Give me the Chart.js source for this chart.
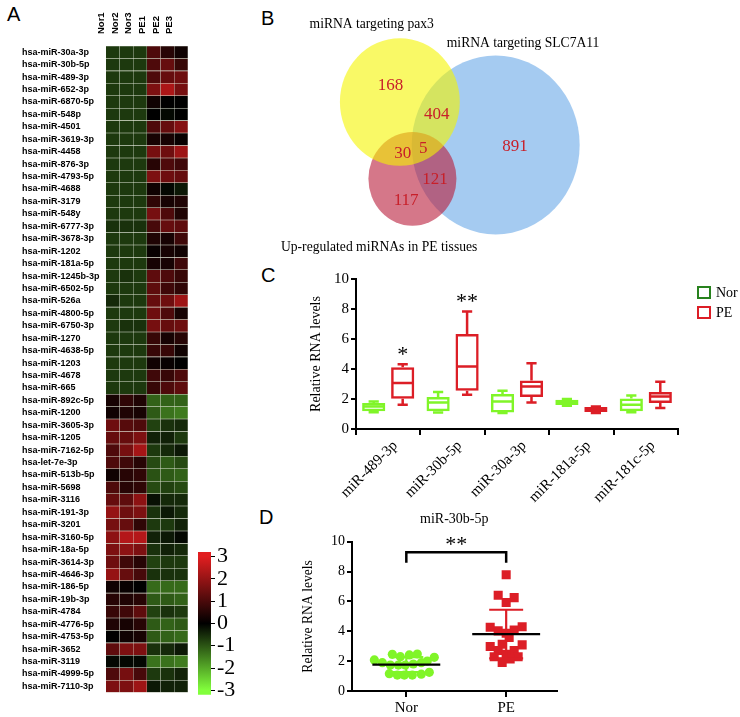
<!DOCTYPE html>
<html>
<head>
<meta charset="utf-8">
<script src="https://cdn.jsdelivr.net/npm/chart.js@4.4.1/dist/chart.umd.min.js"></script>
<style>
  body { margin: 0; width: 740px; height: 717px; background: #fff; overflow: hidden; position: relative; }
  canvas { position: absolute; }
  .tag { position: absolute; font-family: 'Liberation Sans', Arial, sans-serif; font-size: 20px; color: #000; }
</style>
</head>
<body>
<div class="tag" style="left:7px;top:3px">A</div>
<div class="tag" style="left:261px;top:7px">B</div>
<div class="tag" style="left:261px;top:264px">C</div>
<div class="tag" style="left:259px;top:506px">D</div>

<canvas id="heat" width="188" height="698" style="left:0;top:0"></canvas>
<canvas id="scale" width="52" height="175" style="left:190px;top:535px"></canvas>
<canvas id="venn" width="370" height="260" style="left:250px;top:0"></canvas>
<canvas id="box" width="440" height="245" style="left:300px;top:262px"></canvas>
<canvas id="dot" width="273" height="212" style="left:290px;top:505px"></canvas>

<script>
// ---- panel A: heatmap data ----
var mirnas = ['hsa-miR-30a-3p', 'hsa-miR-30b-5p', 'hsa-miR-489-3p', 'hsa-miR-652-3p', 'hsa-miR-6870-5p',
  'hsa-miR-548p', 'hsa-miR-4501', 'hsa-miR-3619-3p', 'hsa-miR-4458', 'hsa-miR-876-3p', 'hsa-miR-4793-5p',
  'hsa-miR-4688', 'hsa-miR-3179', 'hsa-miR-548y', 'hsa-miR-6777-3p', 'hsa-miR-3678-3p', 'hsa-miR-1202',
  'hsa-miR-181a-5p', 'hsa-miR-1245b-3p', 'hsa-miR-6502-5p', 'hsa-miR-526a', 'hsa-miR-4800-5p',
  'hsa-miR-6750-3p', 'hsa-miR-1270', 'hsa-miR-4638-5p', 'hsa-miR-1203', 'hsa-miR-4678', 'hsa-miR-665',
  'hsa-miR-892c-5p', 'hsa-miR-1200', 'hsa-miR-3605-3p', 'hsa-miR-1205', 'hsa-miR-7162-5p', 'hsa-let-7e-3p',
  'hsa-miR-513b-5p', 'hsa-miR-5698', 'hsa-miR-3116', 'hsa-miR-191-3p', 'hsa-miR-3201', 'hsa-miR-3160-5p',
  'hsa-miR-18a-5p', 'hsa-miR-3614-3p', 'hsa-miR-4646-3p', 'hsa-miR-186-5p', 'hsa-miR-19b-3p', 'hsa-miR-4784',
  'hsa-miR-4776-5p', 'hsa-miR-4753-5p', 'hsa-miR-3652', 'hsa-miR-3119', 'hsa-miR-4999-5p', 'hsa-miR-7110-3p'];
var samples = ['Nor1', 'Nor2', 'Nor3', 'PE1', 'PE2', 'PE3'];

var nor1 = [-0.7, -0.7, -0.7, -0.7, -0.7, -0.7, -0.7, -0.7, -0.7, -0.7, -0.7, -0.7, -0.7, -0.7, -0.6, -0.7, -0.7,
  -0.7, -0.7, -0.7, -0.5, -0.7, -0.7, -0.7, -0.7, -0.7, -0.7, -0.7,
  0.3, 0.2, 1.4, 1.3, 1.0, 1.0, 0.2, 1.0, 1.3, 1.9, 1.5, 1.8, 1.6, 1.4, 1.9, 0.2, 0.5, 0.7, 0.4, 0.0, 1.2, -0.1, 1.0, 1.6];
var nor2 = [-0.7, -0.7, -0.7, -0.7, -0.7, -0.7, -0.7, -0.7, -0.7, -0.7, -0.7, -0.7, -0.7, -0.7, -0.6, -0.7, -0.7,
  -0.7, -0.6, -0.7, -0.7, -0.7, -0.6, -0.7, -0.7, -0.7, -0.7, -0.7,
  0.6, 0.4, 1.1, 1.3, 1.5, 0.8, 0.5, 0.5, 1.2, 1.4, 1.3, 2.3, 1.8, 0.8, 1.3, 0.1, 0.4, 0.8, 0.3, 0.2, 1.6, -0.1, 1.5, 1.6];
var nor3 = [-0.7, -0.7, -0.7, -0.7, -0.7, -0.7, -0.7, -0.7, -0.7, -0.7, -0.7, -0.7, -0.7, -0.7, -0.6, -0.7, -0.7,
  -0.7, -0.7, -0.7, -0.7, -0.7, -0.6, -0.7, -0.7, -0.7, -0.7, -0.7,
  0.4, 0.3, 1.0, 1.6, 2.1, 0.5, 0.6, 0.6, 1.8, 1.6, 0.6, 2.3, 1.6, 0.5, 0.9, 0.0, 0.5, 1.2, 0.5, 0.3, 1.6, -0.1, 0.9, 2.0];
var pe1 = [1.0, 1.0, 1.0, 1.6, 0.2, 0.0, 1.0, 0.3, 1.5, 0.5, 1.6, 0.2, 0.6, 1.5, 0.9, 0.4, 0.1, 0.3, 1.2, 1.2,
  1.3, 1.4, 1.5, 0.7, 0.7, 0.2, 0.8, 0.7,
  -1.2, -1.1, -0.8, -0.4, -0.7, -0.9, -1.0, -0.9, -0.2, -0.6, -0.7, -0.4, -0.6, -0.8, -0.6, -1.3, -1.1, -0.8, -1.1, -1.1, -0.6, -1.4, -0.7, -0.3];
var pe2 = [0.5, 1.3, 1.3, 2.2, 0.0, -0.1, 1.3, 0.3, 1.4, 1.0, 1.4, -0.1, 0.3, 1.0, 1.3, 0.3, 0.3, 0.3, 1.0, 0.8,
  1.4, 1.0, 1.3, 0.3, 0.7, 0.1, 0.7, 1.0,
  -1.2, -1.4, -0.6, -0.4, -0.5, -1.1, -1.1, -0.8, -0.5, -0.3, -0.7, -0.3, -0.4, -0.7, -0.6, -1.3, -1.1, -0.6, -1.2, -1.2, -0.5, -1.4, -0.6, -0.4];
var pe3 = [0.2, 0.7, 1.4, 1.5, 0.0, 0.0, 1.7, 0.1, 2.0, 0.8, 1.3, -0.3, 0.4, 0.4, 1.2, 0.8, 0.2, 0.8, 0.7, 0.6,
  2.0, 0.3, 1.4, 0.5, 0.2, 0.0, 1.0, 1.2,
  -1.2, -1.5, -0.5, -0.7, -0.3, -0.9, -1.2, -0.9, -0.5, -0.5, -0.4, -0.1, -0.5, -0.7, -0.6, -1.3, -1.2, -0.7, -1.1, -1.3, -0.3, -1.5, -0.4, -0.4];
var heatValues = [nor1, nor2, nor3, pe1, pe2, pe3];
var colorTicks = [3, 2, 1, 0, -1, -2, -3];

// ---- panel B: venn ----
var vennTitles = ['miRNA targeting pax3', 'miRNA targeting SLC7A11', 'Up-regulated miRNAs in PE tissues'];
var vennCounts = [168, 404, 30, 5, 891, 121, 117];

// ---- panel C: box plots ----
var boxLabels = ['miR-489-3p', 'miR-30b-5p', 'miR-30a-3p', 'miR-181a-5p', 'miR-181c-5p'];
var norMin = [1.12, 1.1, 1.06, 1.55, 1.11];
var norQ1 = [1.18, 1.18, 1.1, 1.6, 1.18];
var norMed = [1.5, 1.77, 1.84, 1.8, 1.62];
var norQ3 = [1.73, 2.13, 2.33, 1.95, 2.04];
var norMax = [1.84, 2.46, 2.55, 2.0, 2.24];
var peMin = [1.62, 2.28, 1.77, 1.06, 1.4];
var peQ1 = [2.02, 2.55, 2.13, 1.13, 1.73];
var peMed = [3.06, 4.17, 2.84, 1.33, 2.17];
var peQ3 = [4.12, 6.34, 3.24, 1.46, 2.46];
var peMax = [4.32, 7.83, 4.39, 1.5, 3.15];
var boxSig = ['*', '**', '', '', ''];

// ---- panel D: miR-30b-5p scatter ----
var dotGroups = ['Nor', 'PE'];
var norDots = [2.46, 2.30, 2.42, 2.48, 2.26, 2.08, 1.90, 1.74, 1.74, 1.74, 1.81, 1.90, 2.01, 1.16, 1.07, 1.07, 1.07, 1.13, 1.25];
var norJitter = [-0.14, -0.06, 0.03, 0.11, 0.28, -0.32, -0.24, -0.16, -0.08, -0.01, 0.07, 0.15, 0.21, -0.17, -0.09, -0.02, 0.06, 0.15, 0.23];
var peDots = [7.79, 6.42, 6.26, 5.93, 4.27, 4.03, 4.09, 4.30, 3.87, 3.58, 3.13, 2.98, 3.09, 2.71, 2.71, 2.30, 2.46, 2.30, 2.15, 1.92];
var peJitter = [0, -0.08, 0.08, 0, -0.16, -0.08, 0.08, 0.16, 0, 0.03, -0.04, -0.16, 0.16, -0.08, 0.08, -0.12, 0, 0.12, 0.04, -0.04];

var serif = 'Liberation Serif, Times New Roman, serif';
var sans = 'Liberation Sans, Arial, sans-serif';
var GREEN = 'rgb(128,245,40)';
var RED = 'rgb(220,30,38)';

function cellColor(v) {
  var t = Math.min(Math.abs(v) / 3, 1);
  if (v >= 0) return 'rgb(' + Math.round(235 * t) + ',' + Math.round(30 * t) + ',' + Math.round(32 * t) + ')';
  return 'rgb(' + Math.round(125 * t) + ',' + Math.round(245 * t) + ',' + Math.round(60 * t) + ')';
}

// heatmap as stacked horizontal bars, one bar segment per sample
new Chart(document.getElementById('heat'), {
  type: 'bar',
  data: {
    labels: mirnas,
    datasets: samples.map(function (s, j) {
      return {
        label: s,
        data: mirnas.map(function () { return 1; }),
        backgroundColor: heatValues[j].map(cellColor),
        borderColor: 'rgba(150,170,120,0.22)',
        borderWidth: 0.6,
        barPercentage: 1,
        categoryPercentage: 1
      };
    })
  },
  options: {
    indexAxis: 'y',
    responsive: false,
    animation: false,
    layout: { padding: { left: 22, top: 0, right: 0, bottom: 0 } },
    plugins: { legend: { display: false }, tooltip: { enabled: false } },
    scales: {
      x: {
        type: 'linear', stacked: true, position: 'top', min: 0, max: 6,
        grid: { display: false }, border: { display: false },
        afterBuildTicks: function (s) { s.ticks = samples.map(function (_, i) { return { value: i + 0.5 }; }); },
        afterFit: function (s) { s.height = 46; },
        ticks: {
          callback: function (v, i) { return samples[i]; },
          minRotation: 90, maxRotation: 90, padding: 4, color: '#000',
          font: { family: sans, size: 9.5, weight: 'bold' }
        }
      },
      y: {
        stacked: true,
        grid: { display: false }, border: { display: false },
        afterFit: function (s) { s.width = 84; },
        ticks: { autoSkip: false, crossAlign: 'far', padding: 0, color: '#000', font: { family: sans, size: 9, weight: 'bold' } }
      }
    }
  }
});

// colour key
new Chart(document.getElementById('scale'), {
  type: 'bar',
  data: {
    labels: [''],
    datasets: [{
      data: [[-3.2, 3.2]],
      barPercentage: 1, categoryPercentage: 1,
      backgroundColor: function (c) {
        var ch = c.chart, y = ch.scales.y;
        if (!ch.chartArea || !y) return null;
        var g = ch.ctx.createLinearGradient(0, y.getPixelForValue(-3), 0, y.getPixelForValue(3));
        g.addColorStop(0, 'rgb(130,255,60)');
        g.addColorStop(0.5, 'rgb(0,0,0)');
        g.addColorStop(1, 'rgb(225,30,32)');
        return g;
      }
    }]
  },
  options: {
    responsive: false, animation: false,
    layout: { padding: { left: 8, top: 17, right: 0, bottom: 15 } },
    plugins: { legend: { display: false }, tooltip: { enabled: false } },
    scales: {
      x: { display: false },
      y: {
        position: 'right', min: -3.2, max: 3.2,
        afterBuildTicks: function (s) { s.ticks = colorTicks.map(function (v) { return { value: v }; }); },
        afterFit: function (s) { s.width = 31; },
        grid: { drawOnChartArea: false, tickLength: 4, color: '#000' },
        border: { display: false },
        ticks: { autoSkip: false, padding: 2, color: '#000', font: { family: serif, size: 22 } }
      }
    }
  }
});

// venn diagram (circle centres/radii in chart units)
var vennCircles = [
  { x: 66.4, y: 36.8, r: 22.7, fill: 'rgba(75,152,228,0.5)' },
  { x: 43.9, y: 45.4, r: 11.9, fill: 'rgba(185,28,58,0.6)' },
  { x: 40.5, y: 25.9, r: 16.2, fill: 'rgba(245,245,0,0.6)' }
];
var vennSpots = [[38.0, 21.6], [50.5, 29.2], [41.3, 39.1], [46.8, 37.8], [71.6, 37.2], [50.0, 45.7], [42.2, 50.8]];
var vennTitleSpots = [[32.9, 6.3], [73.8, 10.9], [34.9, 62.7]];

new Chart(document.getElementById('venn'), {
  type: 'scatter',
  data: {
    datasets: [{
      data: vennSpots.map(function (p) { return { x: p[0], y: p[1] }; }),
      pointRadius: 0
    }]
  },
  options: {
    responsive: false, animation: false,
    layout: { padding: 0 },
    plugins: { legend: { display: false }, tooltip: { enabled: false } },
    scales: {
      x: { display: false, min: 0, max: 100 },
      y: { display: false, min: 0, max: 66, reverse: true }
    }
  },
  plugins: [{
    id: 'vennDraw',
    afterDatasetsDraw: function (chart) {
      var c = chart.ctx, sx = chart.scales.x, sy = chart.scales.y;
      var kx = sx.getPixelForValue(1) - sx.getPixelForValue(0);
      var ky = sy.getPixelForValue(1) - sy.getPixelForValue(0);
      c.save();
      vennCircles.forEach(function (e) {
        c.beginPath();
        c.ellipse(sx.getPixelForValue(e.x), sy.getPixelForValue(e.y), e.r * kx, e.r * ky, 0, 0, Math.PI * 2);
        c.fillStyle = e.fill;
        c.fill();
      });
      c.textAlign = 'center';
      c.textBaseline = 'middle';
      c.font = '17px ' + serif;
      c.fillStyle = '#c8202a';
      chart.getDatasetMeta(0).data.forEach(function (pt, i) {
        c.fillText(String(vennCounts[i]), pt.x, pt.y);
      });
      c.font = '13.6px ' + serif;
      c.fillStyle = '#000';
      vennTitles.forEach(function (t, i) {
        c.fillText(t, sx.getPixelForValue(vennTitleSpots[i][0]), sy.getPixelForValue(vennTitleSpots[i][1]));
      });
      c.restore();
    }
  }]
});

// box plots: floating bars for the boxes, whiskers + medians + legend by plugin
var boxStats = [
  { min: norMin, med: norMed, max: norMax },
  { min: peMin, med: peMed, max: peMax }
];
new Chart(document.getElementById('box'), {
  type: 'bar',
  data: {
    labels: boxLabels,
    datasets: [
      { label: 'Nor', data: boxLabels.map(function (_, i) { return [norQ1[i], norQ3[i]]; }),
        backgroundColor: 'rgba(0,0,0,0)', borderColor: GREEN, legendColor: 'rgb(40,130,30)', borderWidth: 2.5, borderSkipped: false,
        barPercentage: 0.8, categoryPercentage: 0.9 },
      { label: 'PE', data: boxLabels.map(function (_, i) { return [peQ1[i], peQ3[i]]; }),
        backgroundColor: 'rgba(0,0,0,0)', borderColor: RED, legendColor: RED, borderWidth: 2.5, borderSkipped: false,
        barPercentage: 0.8, categoryPercentage: 0.9 }
    ]
  },
  options: {
    responsive: false, animation: false,
    layout: { padding: { left: 8, top: 17, right: 62, bottom: 0 } },
    plugins: { tooltip: { enabled: false }, legend: { display: false } },
    scales: {
      x: {
        grid: { drawOnChartArea: false, tickLength: 6, color: '#000', lineWidth: 2, offset: true },
        border: { color: '#000', width: 2 },
        afterFit: function (s) { s.height = 78; },
        ticks: { minRotation: 45, maxRotation: 45, padding: 2, labelOffset: 7, color: '#000', font: { family: serif, size: 15 } }
      },
      y: {
        min: 0, max: 10,
        afterFit: function (s) { s.width = 48; },
        grid: { drawOnChartArea: false, tickLength: 5, color: '#000', lineWidth: 2 },
        border: { color: '#000', width: 2 },
        title: { display: true, text: 'Relative RNA levels', color: '#000', padding: { top: 0, bottom: 4 }, font: { family: serif, size: 14 } },
        ticks: { stepSize: 2, padding: 2, color: '#000', font: { family: serif, size: 15 } }
      }
    }
  },
  plugins: [{
    id: 'whiskers',
    afterDatasetsDraw: function (chart) {
      var c = chart.ctx, y = chart.scales.y, area = chart.chartArea;
      c.save();
      chart.data.datasets.forEach(function (ds, di) {
        var st = boxStats[di];
        chart.getDatasetMeta(di).data.forEach(function (bar, i) {
          var x = bar.x, hw = bar.width / 2 - 1, cap = bar.width * 0.22;
          var box = ds.data[i];
          var pMed = y.getPixelForValue(st.med[i]);
          var pMax = y.getPixelForValue(st.max[i]), pMin = y.getPixelForValue(st.min[i]);
          c.strokeStyle = ds.borderColor;
          c.lineWidth = 2.5;
          c.beginPath();
          c.moveTo(x - hw, pMed); c.lineTo(x + hw, pMed);
          c.moveTo(x, y.getPixelForValue(box[1])); c.lineTo(x, pMax);
          c.moveTo(x - cap, pMax); c.lineTo(x + cap, pMax);
          c.moveTo(x, y.getPixelForValue(box[0])); c.lineTo(x, pMin);
          c.moveTo(x - cap, pMin); c.lineTo(x + cap, pMin);
          c.stroke();
          if (di === 1 && boxSig[i]) {
            c.fillStyle = '#000';
            c.font = '22px ' + serif;
            c.textAlign = 'center';
            c.textBaseline = 'middle';
            c.fillText(boxSig[i], x, y.getPixelForValue(st.max[i] + 0.6));
          }
        });
        // legend entry
        var lx = area.right + 20, ly = area.top + 8 + di * 20;
        c.lineWidth = 2;
        c.strokeStyle = ds.legendColor;
        c.strokeRect(lx, ly, 12, 11);
        c.fillStyle = '#000';
        c.font = '14px ' + serif;
        c.textAlign = 'left';
        c.textBaseline = 'middle';
        c.fillText(ds.label, lx + 18, ly + 6);
      });
      c.restore();
    }
  }]
});

// scatter with mean +- SD
function mean(a) { return a.reduce(function (s, v) { return s + v; }, 0) / a.length; }
function sd(a) {
  var m = mean(a);
  return Math.sqrt(a.reduce(function (s, v) { return s + (v - m) * (v - m); }, 0) / (a.length - 1));
}
var dotSets = [
  { vals: norDots, color: GREEN },
  { vals: peDots, color: RED }
];
new Chart(document.getElementById('dot'), {
  type: 'scatter',
  data: {
    datasets: [
      { label: 'Nor', data: norDots.map(function (v, i) { return { x: 1 + norJitter[i], y: v }; }),
        pointStyle: 'circle', pointRadius: 4.6, backgroundColor: GREEN, borderWidth: 0 },
      { label: 'PE', data: peDots.map(function (v, i) { return { x: 2 + peJitter[i], y: v }; }),
        pointStyle: 'rect', pointRadius: 6.4, backgroundColor: RED, borderWidth: 0 }
    ]
  },
  options: {
    responsive: false, animation: false,
    layout: { padding: { left: 10, top: 0, right: 0, bottom: 0 } },
    plugins: {
      legend: { display: false }, tooltip: { enabled: false },
      title: { display: true, text: 'miR-30b-5p', fullSize: false, color: '#000', padding: { top: 6, bottom: 14 }, font: { family: serif, size: 14, weight: 'normal' } }
    },
    scales: {
      x: {
        type: 'linear', min: 0.456, max: 2.505,
        afterBuildTicks: function (s) { s.ticks = [{ value: 1 }, { value: 2 }]; },
        afterFit: function (s) { s.height = 26; },
        grid: { drawOnChartArea: false, tickLength: 6, color: '#000', lineWidth: 2 },
        border: { color: '#000', width: 2 },
        ticks: { callback: function (v, i) { return dotGroups[i]; }, padding: 2, color: '#000', font: { family: serif, size: 15 } }
      },
      y: {
        min: 0, max: 10,
        afterFit: function (s) { s.width = 52; },
        grid: { drawOnChartArea: false, tickLength: 5, color: '#000', lineWidth: 2 },
        border: { color: '#000', width: 2 },
        title: { display: true, text: 'Relative RNA levels', color: '#000', padding: { top: 0, bottom: 4 }, font: { family: serif, size: 13.6 } },
        ticks: { stepSize: 2, padding: 2, color: '#000', font: { family: serif, size: 14 } }
      }
    }
  },
  plugins: [{
    id: 'meanSd',
    afterDatasetsDraw: function (chart) {
      var c = chart.ctx, sx = chart.scales.x, sy = chart.scales.y;
      c.save();
      c.lineWidth = 2.2;
      dotSets.forEach(function (g, gi) {
        var cx = gi + 1, m = mean(g.vals), s = sd(g.vals);
        var top = sy.getPixelForValue(m + s), bot = sy.getPixelForValue(m - s);
        c.strokeStyle = g.color;
        c.beginPath();
        c.moveTo(sx.getPixelForValue(cx), top); c.lineTo(sx.getPixelForValue(cx), bot);
        c.moveTo(sx.getPixelForValue(cx - 0.17), top); c.lineTo(sx.getPixelForValue(cx + 0.17), top);
        c.moveTo(sx.getPixelForValue(cx - 0.17), bot); c.lineTo(sx.getPixelForValue(cx + 0.17), bot);
        c.stroke();
        c.strokeStyle = '#000';
        c.beginPath();
        c.moveTo(sx.getPixelForValue(cx - 0.34), sy.getPixelForValue(m));
        c.lineTo(sx.getPixelForValue(cx + 0.34), sy.getPixelForValue(m));
        c.stroke();
      });
      // significance bracket
      c.strokeStyle = '#000';
      c.lineWidth = 2.5;
      c.beginPath();
      c.moveTo(sx.getPixelForValue(1), sy.getPixelForValue(8.6));
      c.lineTo(sx.getPixelForValue(1), sy.getPixelForValue(9.3));
      c.lineTo(sx.getPixelForValue(2), sy.getPixelForValue(9.3));
      c.lineTo(sx.getPixelForValue(2), sy.getPixelForValue(8.6));
      c.stroke();
      c.fillStyle = '#000';
      c.font = '22px ' + serif;
      c.textAlign = 'center';
      c.textBaseline = 'middle';
      c.fillText('**', sx.getPixelForValue(1.5), sy.getPixelForValue(9.75));
      c.restore();
    }
  }]
});
</script>
</body>
</html>
